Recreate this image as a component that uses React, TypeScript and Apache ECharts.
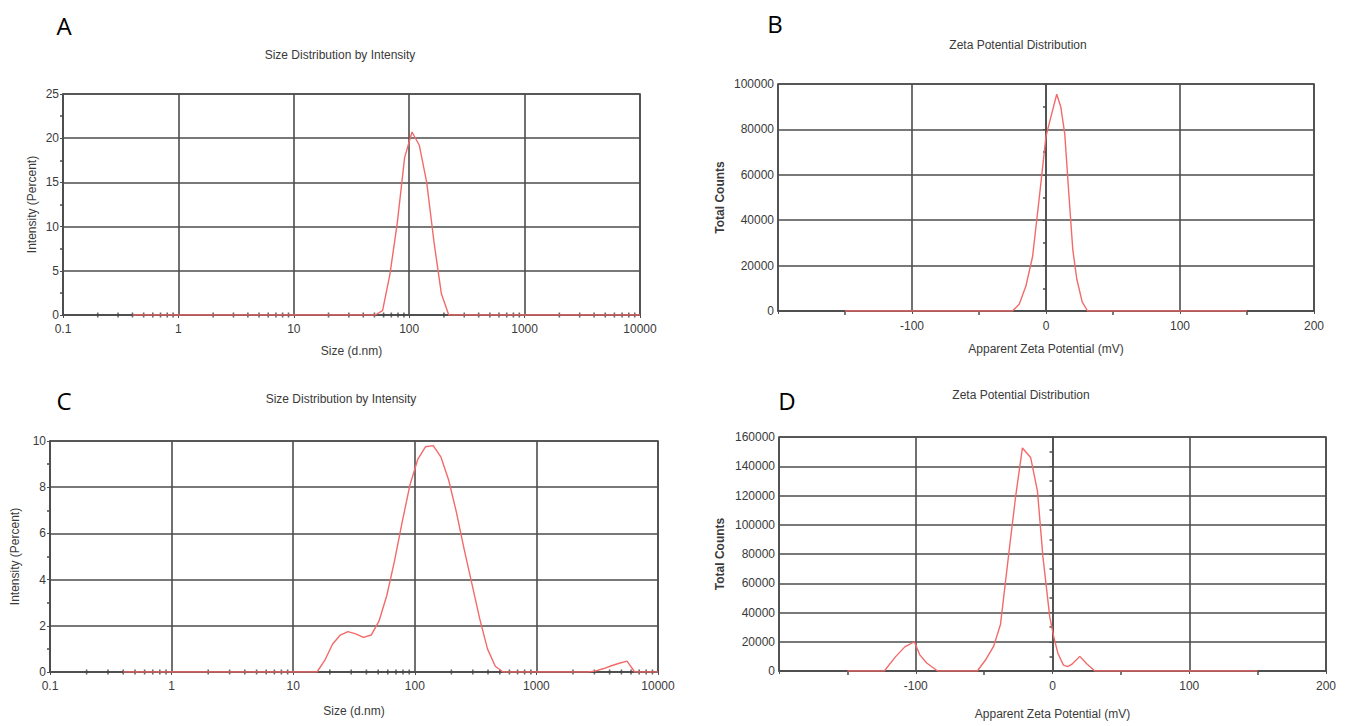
import React, { useEffect, useRef } from "react";
import * as echarts from "echarts";

// Panel A: size distribution (log x)
const sizeA = [0.4, 50.75, 58.77, 68.06, 78.8, 91.28, 105.7, 122.4, 141.8, 164.2, 190.1, 220.2, 10000];
const intensityA = [0, 0, 0.5, 4.6, 10.4, 17.8, 20.7, 19.2, 15.0, 8.2, 2.4, 0, 0];

// Panel B: zeta potential
const zetaB = [-150, -25, -20, -15, -10, -5, 0, 3, 8, 11, 14, 17, 20, 23, 27, 31, 150];
const countsB = [0, 0, 3000, 11000, 24000, 50000, 77000, 84000, 95500, 90000, 78000, 52000, 27000, 14000, 4000, 0, 0];

// Panel C: size distribution (log x)
const sizeC = [0.4, 15.69, 18.17, 21.04, 24.4, 28.2, 32.7, 37.8, 43.8, 50.75, 58.77, 68.06, 78.8, 91.28, 105.7, 122.4, 141.8, 164.2, 190.1, 220.2, 255, 295.3, 342, 396, 459, 531, 2669, 3090, 3578, 4143, 4801, 5560, 6443, 10000];
const intensityC = [0, 0, 0.5, 1.2, 1.6, 1.75, 1.65, 1.5, 1.6, 2.2, 3.3, 4.8, 6.5, 8.1, 9.2, 9.75, 9.8, 9.3, 8.3, 6.9, 5.3, 3.8, 2.3, 1.0, 0.25, 0, 0, 0.05, 0.15, 0.27, 0.38, 0.47, 0, 0];

// Panel D: zeta potential
const zetaD = [-150, -123, -115, -108, -101, -97, -92, -84, -55, -49, -43, -38, -32, -27, -22, -16, -11, -7, -2, 1, 4, 8, 11, 14, 20, 25, 31, 150];
const countsD = [0, 0, 9500, 16500, 20000, 11000, 5500, 0, 0, 7500, 17000, 32000, 80000, 119000, 152500, 146000, 123000, 78000, 37000, 23000, 12000, 4000, 3000, 4500, 10000, 5000, 0, 0];

// Minor tick positions on the log axes
const logMinorTicks = [
  0.2, 0.3, 0.4, 0.5, 0.6, 0.7, 0.8, 0.9,
  2, 3, 4, 5, 6, 7, 8, 9,
  20, 30, 40, 50, 60, 70, 80, 90,
  200, 300, 400, 500, 600, 700, 800, 900,
  2000, 3000, 4000, 5000, 6000, 7000, 8000, 9000,
];

const panelLetters = ["A", "B", "C", "D"];
const sizeTitle = "Size Distribution by Intensity";
const zetaTitle = "Zeta Potential Distribution";
const sizeXName = "Size (d.nm)";
const sizeYName = "Intensity (Percent)";
const zetaXName = "Apparent Zeta Potential (mV)";
const zetaYName = "Total Counts";

const LINE = "#4d4d4d";
const TXT = "#3a3a3a";
const RED = "#f36a6a";
const FONT = "Liberation Sans, Arial, sans-serif";

const plain = (v: number) => {
  const r = Math.round(v * 1000) / 1000;
  return String(r);
};

export default function App() {
  const ref = useRef<HTMLDivElement>(null);
  useEffect(() => {
    if (!ref.current) return;
    const chart = echarts.init(ref.current, null, { renderer: "svg" });

    const grids = [
      { left: 63, top: 94, width: 577, height: 221 },
      { left: 778, top: 84, width: 536, height: 227 },
      { left: 50, top: 441, width: 608, height: 231 },
      { left: 779, top: 437, width: 547, height: 234 },
    ].map((g) => ({ ...g, show: true, borderColor: LINE, borderWidth: 1.6, backgroundColor: "transparent" }));

    const axisLine = { show: true, lineStyle: { color: LINE, width: 1.6 } };
    const splitLine = { show: true, lineStyle: { color: LINE, width: 1.6 } };
    const label = { color: TXT, fontSize: 12, fontFamily: FONT, formatter: plain };

    const logX = (gi: number, gap: number) => ({
      type: "log",
      logBase: 10,
      gridIndex: gi,
      min: 0.1,
      max: 10000,
      axisLine,
      splitLine,
      axisTick: { show: true, length: 3, lineStyle: { color: LINE } },
      axisLabel: { ...label, margin: 8 },
      name: sizeXName,
      nameLocation: "middle",
      nameGap: gap,
      nameTextStyle: { color: TXT, fontSize: 12, fontFamily: FONT },
    });
    const zetaX = (gi: number, gap: number) => ({
      type: "value",
      gridIndex: gi,
      min: -200,
      max: 200,
      interval: 100,
      axisLine,
      splitLine,
      axisTick: { show: true, length: 3, lineStyle: { color: LINE } },
      minorTick: { show: true, splitNumber: 2, length: 4, lineStyle: { color: LINE, width: 1.5 } },
      axisLabel: { ...label, margin: 9, showMinLabel: false },
      name: zetaXName,
      nameLocation: "middle",
      nameGap: gap,
      nameTextStyle: { color: TXT, fontSize: 12, fontFamily: FONT },
    });
    const yAx = (gi: number, max: number, interval: number, name: string, gap: number, bold = false) => ({
      type: "value",
      gridIndex: gi,
      min: 0,
      max,
      interval,
      axisLine,
      splitLine,
      axisTick: { show: true, length: 3, lineStyle: { color: LINE } },
      minorTick: { show: true, splitNumber: 2, length: 3, lineStyle: { color: LINE, width: 1.5 } },
      axisLabel: { ...label, margin: 4 },
      name,
      nameLocation: "middle",
      nameGap: gap,
      nameRotate: 90,
      nameTextStyle: { color: TXT, fontSize: 12, fontFamily: FONT, fontWeight: bold ? "bold" : "normal" },
    });

    const lineSeries = (gi: number, xs: number[], ys: number[]) => ({
      type: "line",
      xAxisIndex: gi,
      yAxisIndex: gi,
      data: xs.map((x, i) => [x, ys[i]]),
      symbol: "none",
      z: 5,
      lineStyle: { color: RED, width: 1.4 },
      silent: true,
    });
    const tickSeries = (gi: number) => ({
      type: "scatter",
      xAxisIndex: gi,
      yAxisIndex: gi,
      data: logMinorTicks.map((x) => [x, 0]),
      symbol: "rect",
      symbolSize: [1.6, 5],
      itemStyle: { color: "#444" },
      z: 4,
      silent: true,
    });

    const textStyle = (t: string, x: number, y: number, size: number, family: string, color: string) => ({
      type: "text",
      x,
      y,
      style: { text: t, fontSize: size, fontFamily: family, fill: color, textAlign: "center", textVerticalAlign: "middle" },
      silent: true,
    });

    chart.setOption({
      animation: false,
      backgroundColor: "#fff",
      grid: grids,
      xAxis: [logX(0, 30), zetaX(1, 32), logX(2, 33), zetaX(3, 37)],
      yAxis: [
        yAx(0, 25, 5, sizeYName, 25),
        yAx(1, 100000, 20000, zetaYName, 52, true),
        yAx(2, 10, 2, sizeYName, 29),
        yAx(3, 160000, 20000, zetaYName, 53, true),
      ],
      series: [
        tickSeries(0),
        tickSeries(2),
        lineSeries(0, sizeA, intensityA),
        lineSeries(1, zetaB, countsB),
        lineSeries(2, sizeC, intensityC),
        lineSeries(3, zetaD, countsD),
      ],
      graphic: [
        textStyle(panelLetters[0], 64, 25, 24, "Open Sans, sans-serif", "#000"),
        textStyle(panelLetters[1], 775, 23, 24, "Open Sans, sans-serif", "#000"),
        textStyle(panelLetters[2], 64, 400, 24, "Open Sans, sans-serif", "#000"),
        textStyle(panelLetters[3], 787, 400, 24, "Open Sans, sans-serif", "#000"),
        textStyle(sizeTitle, 340, 55, 12, FONT, TXT),
        textStyle(zetaTitle, 1018, 45, 12, FONT, TXT),
        textStyle(sizeTitle, 341, 399, 12, FONT, TXT),
        textStyle(zetaTitle, 1021, 395, 12, FONT, TXT),
      ],
    });
    return () => chart.dispose();
  }, []);
  return <div ref={ref} style={{ position: "absolute", left: 0, top: 0, width: 1353, height: 726 }} />;
}
